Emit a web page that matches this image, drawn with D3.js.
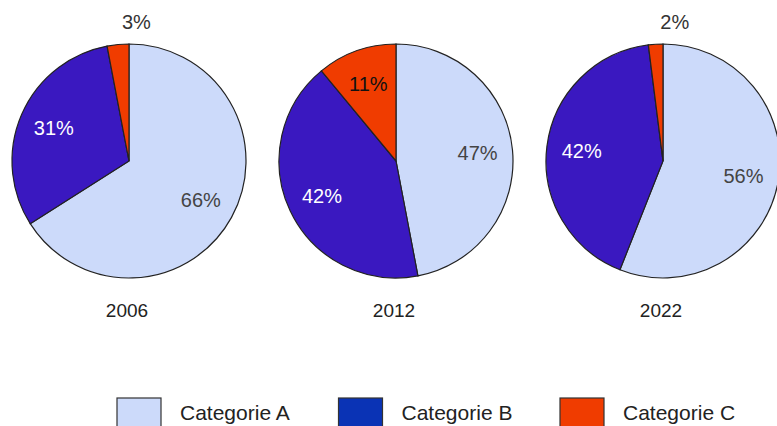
<!DOCTYPE html>
<html>
  <head>
    <title>Three pies by year</title>
    <script src="https://cdn.jsdelivr.net/npm/d3@7"></script>
    <style>
      body { margin: 0; background: #fff; }
      text { font-family: "Liberation Sans", Arial, sans-serif; }
    </style>
  </head>
  <body>
    <svg id="svg" width="777" height="426" xmlns="http://www.w3.org/2000/svg"></svg>
    <script>
      // Data
      let years = ["2006", "2012", "2022"];
      let categories = ["Categorie A", "Categorie B", "Categorie C"];
      let valuesA = [66, 47, 56];
      let valuesB = [31, 42, 42];
      let valuesC = [3, 11, 2];

      let pieColors = ["#ccdafa", "#3a18c0", "#f03c00"];
      let legendColors = ["#ccdafa", "#0a33b5", "#f03c00"];
      let labelColors = ["#444", "#fff", "#111"];

      let svg = d3.select("svg");
      let radius = 117;

      // x position of each pie centre
      let x = d3.scalePoint().domain(years).range([129, 663]);
      let cy = 161;

      let pie = d3.pie().sort(null).value((d) => d.value);
      let arc = d3.arc().innerRadius(0).outerRadius(radius);
      let labelArc = d3.arc().innerRadius(radius * 0.7).outerRadius(radius * 0.7);
      let outerArc = d3.arc().innerRadius(radius * 1.19).outerRadius(radius * 1.19);

      years.forEach((year, i) => {
        let rows = [
          { cat: 0, value: valuesA[i] },
          { cat: 1, value: valuesB[i] },
          { cat: 2, value: valuesC[i] },
        ];
        let g = svg.append("g").attr("transform", `translate(${x(year)},${cy})`);
        let slices = pie(rows);

        // Slices
        g.selectAll("path")
          .data(slices)
          .enter()
          .append("path")
          .attr("d", arc)
          .attr("fill", (d) => pieColors[d.data.cat])
          .attr("stroke", "#222")
          .attr("stroke-width", 1.2);

        // Percent labels, small slices go outside
        g.selectAll(".pct")
          .data(slices)
          .enter()
          .append("text")
          .attr("class", "pct")
          .attr("transform", (d) => {
            let p = d.data.value < 5 ? outerArc.centroid(d) : labelArc.centroid(d);
            return `translate(${p[0]},${p[1]})`;
          })
          .attr("text-anchor", (d) => (d.data.value < 5 ? "start" : "middle"))
          .attr("dx", (d) => (d.data.value < 5 ? 6 : 0))
          .attr("dy", "0.35em")
          .attr("font-size", 20)
          .attr("fill", (d) => (d.data.value < 5 ? "#333" : labelColors[d.data.cat]))
          .text((d) => d.data.value + "%");

        // Year label under the pie
        svg.append("text")
          .attr("x", x(year) - 2)
          .attr("y", 317)
          .attr("text-anchor", "middle")
          .attr("font-size", 19)
          .attr("fill", "#222")
          .text(year);
      });

      // Legend
      let lx = d3.scalePoint().domain(categories).range([117, 560]);
      let legend = svg.selectAll(".legend")
        .data(categories)
        .enter()
        .append("g")
        .attr("class", "legend")
        .attr("transform", (d) => `translate(${lx(d)},398)`);

      legend.append("rect")
        .attr("width", 44)
        .attr("height", 30)
        .attr("fill", (d, i) => legendColors[i])
        .attr("stroke", "#333")
        .attr("stroke-width", 1.2);

      legend.append("text")
        .attr("x", 63)
        .attr("y", 22)
        .attr("font-size", 21)
        .attr("fill", "#222")
        .text((d) => d);
    </script>
  </body>
</html>
